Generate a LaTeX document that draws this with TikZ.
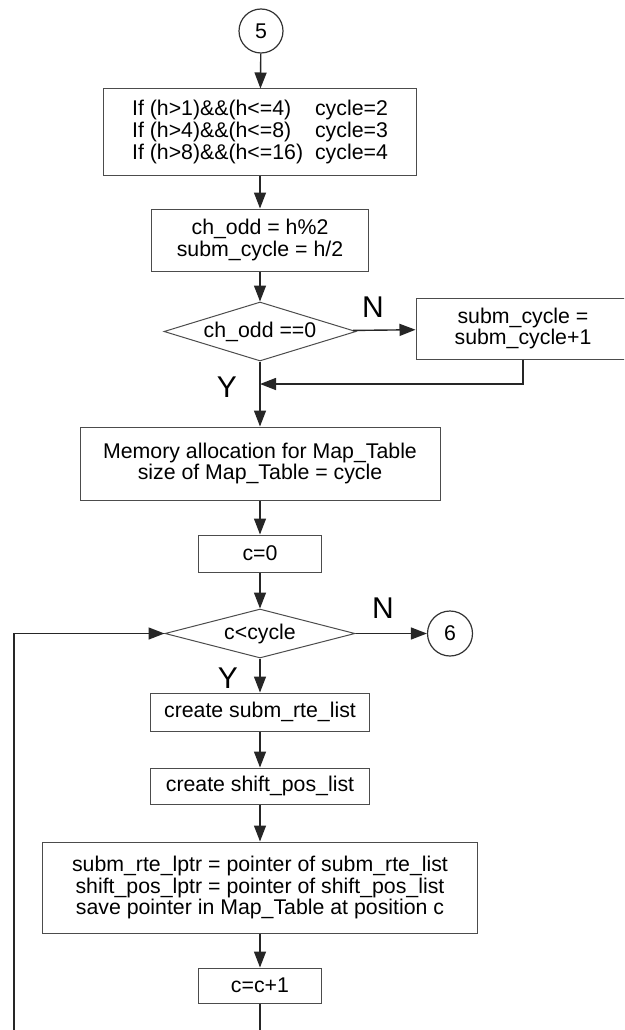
\documentclass[tikz,border=0pt]{standalone}
\usepackage{fontspec}
\setmainfont{Liberation Sans}
\usetikzlibrary{arrows.meta, shapes.geometric}

\tikzset{
    flowbox/.style={draw=black!70, line width=1pt, rectangle, inner sep=0pt,
        align=center, font=\fontsize{21.3}{21.8}\selectfont},
    decide/.style={draw=black!70, line width=1pt, diamond, inner sep=0pt,
        font=\fontsize{21.3}{21.8}\selectfont},
    connector/.style={draw=black!80, line width=1.2pt, circle, inner sep=0pt,
        minimum size=44pt, font=\fontsize{21.3}{21.8}\selectfont},
    flow/.style={draw=black!85, line width=1.4pt},
    flowarrow/.style={flow, -{Triangle[length=16pt,width=12pt]}},
    yn/.style={inner sep=0pt, font=\fontsize{30}{30}\selectfont}
}

\begin{document}
\begin{tikzpicture}[x=1pt, y=-1pt]
    \fill[white] (0,0) rectangle (624,1030);
    \useasboundingbox (0,0) rectangle (624,1030);
    \clip (0,0) rectangle (624,1030);

    \node[connector] (c5) at (261,31) {5};
    \node[flowbox, minimum width=313pt, minimum height=86pt, align=left] (cond) at (260,132) {%
        \makebox[183pt][l]{If (h>1)\&\&(h<=4)}cycle=2\\
        \makebox[183pt][l]{If (h>4)\&\&(h<=8)}cycle=3\\
        \makebox[183pt][l]{If (h>8)\&\&(h<=16)}cycle=4};
    \node[flowbox, minimum width=217pt, minimum height=62pt] (odd) at (260,240)
        {ch\_odd = h\%2\\subm\_cycle = h/2};
    \node[decide, aspect=3.25, minimum width=192pt, minimum height=59pt] (isodd) at (260,331.5) {ch\_odd ==0};
    \node[flowbox, minimum width=214pt, minimum height=61pt] (incr) at (523,328.5)
        {subm\_cycle =\\subm\_cycle+1};
    \coordinate (join) at (260,384);
    \node[flowbox, minimum width=360pt, minimum height=73pt] (alloc) at (260,463.5)
        {Memory allocation for Map\_Table\\size of Map\_Table = cycle};
    \node[flowbox, minimum width=123pt, minimum height=37pt] (cinit) at (260,553.5) {c=0};
    \node[decide, aspect=3.9, minimum width=190pt, minimum height=49pt] (loop) at (260,633.5) {c<cycle};
    \node[connector, minimum size=45pt] (c6) at (450,633.5) {6};
    \node[flowbox, minimum width=219pt, minimum height=38pt] (rte) at (260,712) {create subm\_rte\_list};
    \node[flowbox, minimum width=219pt, minimum height=36pt] (shift) at (260,786) {create shift\_pos\_list};
    \node[flowbox, minimum width=435pt, minimum height=91pt] (save) at (260,887.5)
        {subm\_rte\_lptr = pointer of subm\_rte\_list\\
         shift\_pos\_lptr = pointer of shift\_pos\_list\\
         save pointer in Map\_Table at position c};
    \node[flowbox, minimum width=123pt, minimum height=35pt] (cinc) at (260,985.5) {c=c+1};
    \coordinate (backB) at (260,1060);
    \coordinate (backL) at (14,1060);

    \node[yn] at (373,307) {N};
    \node[yn] at (227,387) {Y};
    \node[yn] at (383,608) {N};
    \node[yn] at (228,678) {Y};

    \draw[flowarrow] (c5) -- (cond);
    \draw[flowarrow] (cond) -- (odd);
    \draw[flowarrow] (odd) -- (isodd);
    \draw[flowarrow] (isodd) -- (incr);
    \draw[flowarrow] (isodd) -- (alloc);
    \draw[flowarrow] (incr.south) |- (join);
    \draw[flowarrow] (alloc) -- (cinit);
    \draw[flowarrow] (cinit) -- (loop);
    \draw[flowarrow] (loop) -- (c6);
    \draw[flowarrow] (loop) -- (rte);
    \draw[flowarrow] (rte) -- (shift);
    \draw[flowarrow] (shift) -- (save);
    \draw[flowarrow] (save) -- (cinc);
    \draw[flowarrow] (cinc) -- (backB) -- (backL) |- (loop.west);
\end{tikzpicture}
\end{document}
